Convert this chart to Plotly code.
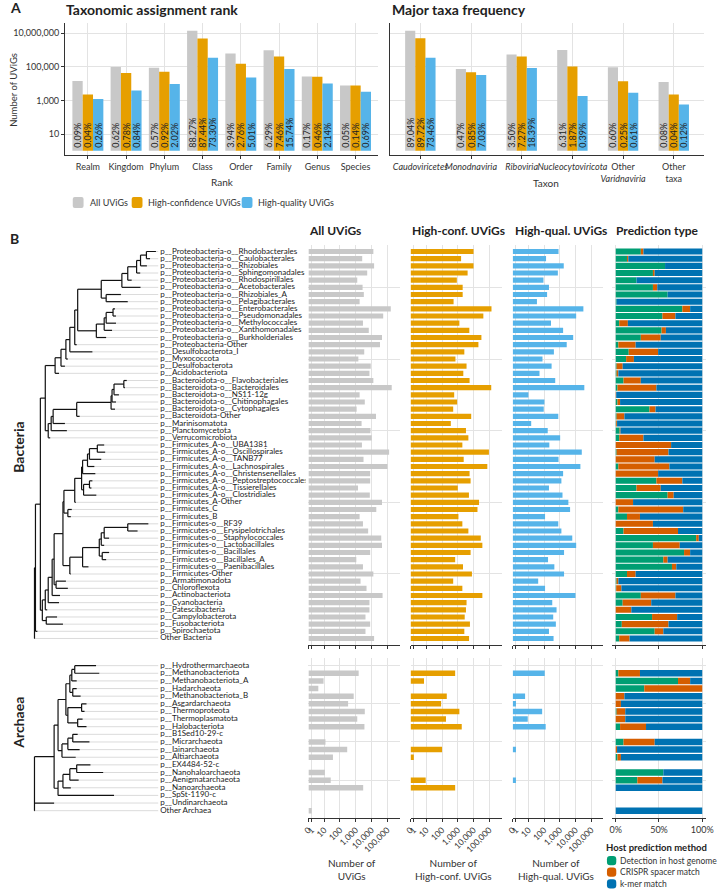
import numpy as np
import plotly.graph_objects as go

W, H = 720, 889
FONT = "Lato"
INK = "#222222"
AXC = "#333333"
GRID = "#E3E3E3"
GREY, ORANGE, SKY = "#C8C8C8", "#E69F00", "#56B4E9"
GREEN, VERMIL, BLUE = "#009E73", "#D55E00", "#0072B2"

# ---- Panel A data (percent of UViGs per deepest assigned rank / major taxon)
total_all, total_hc, total_hq = 15_677_623, 5_576_197, 470_000

rank_cats = ["Realm", "Kingdom", "Phylum", "Class", "Order", "Family", "Genus", "Species"]
rank_all_pct = [0.09, 0.62, 0.57, 88.27, 3.94, 6.29, 0.17, 0.05]
rank_hc_pct = [0.04, 0.78, 0.92, 87.44, 2.76, 7.46, 0.46, 0.14]
rank_hq_pct = [0.26, 0.84, 2.02, 73.30, 5.01, 15.74, 2.14, 0.69]

taxa_cats = ["Caudoviricetes", "Monodnaviria", "Riboviria", "Nucleocytoviricota",
             "Other Varidnaviria", "Other taxa"]
taxa_ticks = ["<i>Caudoviricetes</i>", "<i>Monodnaviria</i>", "<i>Riboviria</i>",
              "<i>Nucleocytoviricota</i>", "Other<br><i>Varidnaviria</i>", "Other<br>taxa"]
taxa_all_pct = [89.04, 0.47, 3.50, 6.31, 0.60, 0.08]
taxa_hc_pct = [89.72, 0.85, 7.27, 1.87, 0.25, 0.04]
taxa_hq_pct = [73.46, 7.03, 18.39, 0.39, 0.61, 0.12]

# ---- Panel B data: host taxa
bac_taxa = [
    "p__Proteobacteria-o__Rhodobacterales", "p__Proteobacteria-o__Caulobacterales",
    "p__Proteobacteria-o__Rhizobiales", "p__Proteobacteria-o__Sphingomonadales",
    "p__Proteobacteria-o__Rhodospirillales", "p__Proteobacteria-o__Acetobacterales",
    "p__Proteobacteria-o__Rhizobiales_A", "p__Proteobacteria-o__Pelagibacterales",
    "p__Proteobacteria-o__Enterobacterales", "p__Proteobacteria-o__Pseudomonadales",
    "p__Proteobacteria-o__Methylococcales", "p__Proteobacteria-o__Xanthomonadales",
    "p__Proteobacteria-o__Burkholderiales", "p__Proteobacteria-Other",
    "p__Desulfobacterota_I", "p__Myxococcota", "p__Desulfobacterota", "p__Acidobacteriota",
    "p__Bacteroidota-o__Flavobacteriales", "p__Bacteroidota-o__Bacteroidales",
    "p__Bacteroidota-o__NS11-12g", "p__Bacteroidota-o__Chitinophagales",
    "p__Bacteroidota-o__Cytophagales", "p__Bacteroidota-Other",
    "p__Marinisomatota", "p__Planctomycetota", "p__Verrucomicrobiota",
    "p__Firmicutes_A-o__UBA1381", "p__Firmicutes_A-o__Oscillospirales",
    "p__Firmicutes_A-o__TANB77", "p__Firmicutes_A-o__Lachnospirales",
    "p__Firmicutes_A-o__Christensenellales", "p__Firmicutes_A-o__Peptostreptococcales",
    "p__Firmicutes_A-o__Tissierellales", "p__Firmicutes_A-o__Clostridiales",
    "p__Firmicutes_A-Other", "p__Firmicutes_C", "p__Firmicutes_B",
    "p__Firmicutes-o__RF39", "p__Firmicutes-o__Erysipelotrichales",
    "p__Firmicutes-o__Staphylococcales", "p__Firmicutes-o__Lactobacillales",
    "p__Firmicutes-o__Bacillales", "p__Firmicutes-o__Bacillales_A",
    "p__Firmicutes-o__Paenibacillales", "p__Firmicutes-Other",
    "p__Armatimonadota", "p__Chloroflexota", "p__Actinobacteriota", "p__Cyanobacteria",
    "p__Patescibacteria", "p__Campylobacterota", "p__Fusobacteriota", "p__Spirochaetota",
    "Other Bacteria",
]
bac_all = [13300, 2600, 14800, 5400, 1260, 2750, 3300, 1780, 170000, 56000,
           2900, 6800, 47000, 35000, 3500, 1480, 9100, 7500, 13300, 195000,
           1780, 3800, 1150, 19500, 2370, 8700, 10500, 2500, 133000, 3160,
           105000, 8300, 8300, 1410, 7900, 47000, 20400, 1780, 2900, 6200,
           42000, 47000, 8300, 1100, 2900, 13300, 2040, 4900, 51000, 7500,
           7500, 4200, 8300, 4200, 14800]
bac_hc = [10000, 1620, 10000, 4200, 870, 2040, 2040, 540, 138000, 42000,
          1260, 5400, 31600, 20400, 2600, 710, 3600, 2240, 5600, 133000,
          590, 910, 510, 7100, 360, 3300, 4700, 1950, 95000, 2370,
          75000, 5600, 6500, 1000, 5100, 22400, 17800, 1100, 1950, 4700,
          28800, 36300, 6500, 680, 2140, 7900, 510, 1950, 36300, 3600,
          3300, 2750, 5900, 2600, 5200]
bac_hq = [830, 133, 1780, 750, 91, 204, 155, 35, 31600, 11000,
          275, 1620, 7100, 2750, 420, 79, 300, 51, 510, 36300,
          10, 105, 95, 800, 15, 170, 1050, 215, 25000, 830,
          20400, 1620, 1260, 204, 1480, 3500, 4500, 115, 800, 1260,
          6200, 11000, 1860, 178, 450, 1860, 42, 115, 10000, 330,
          620, 380, 560, 204, 400]
bac_genome = [0.29, 0.13, 0.57, 0.43, 0.24, 0.43, 0.60, 0.01, 0.77, 0.54,
              0.04, 0.53, 0.29, 0.03, 0.15, 0.12, 0.01, 0.01, 0.09, 0.02,
              0.00, 0.02, 0.39, 0.01, 0.005, 0.045, 0.04, 0.00, 0.01, 0.00,
              0.03, 0.00, 0.47, 0.24, 0.60, 0.00, 0.03, 0.13, 0.00, 0.09,
              0.93, 0.43, 0.79, 0.55, 0.65, 0.13, 0.01, 0.005, 0.29, 0.08,
              0.00, 0.42, 0.07, 0.45, 0.04]
bac_crispr = [0.03, 0.015, 0.00, 0.02, 0.00, 0.05, 0.00, 0.00, 0.09, 0.15,
              0.10, 0.05, 0.23, 0.20, 0.34, 0.09, 0.07, 0.02, 0.20, 0.45,
              0.005, 0.03, 0.07, 0.09, 0.01, 0.01, 0.28, 0.64, 0.60, 0.45,
              0.59, 0.49, 0.30, 0.28, 0.07, 0.20, 0.75, 0.15, 0.43, 0.63,
              0.03, 0.31, 0.07, 0.05, 0.05, 0.10, 0.02, 0.06, 0.40, 0.33,
              0.18, 0.29, 0.54, 0.10, 0.12]

arc_taxa = [
    "p__Hydrothermarchaeota", "p__Methanobacteriota", "p__Methanobacteriota_A",
    "p__Hadarchaeota", "p__Methanobacteriota_B", "p__Asgardarchaeota",
    "p__Thermoproteota", "p__Thermoplasmatota", "p__Halobacteriota",
    "p__B1Sed10-29-c", "p__Micrarchaeota", "p__Iainarchaeota", "p__Altiarchaeota",
    "p__EX4484-52-c", "p__Nanohaloarchaeota", "p__Aenigmatarchaeota",
    "p__Nanoarchaeota", "p__SpSt-1190-c", "p__Undinarchaeota", "Other Archaea",
]
arc_all = [0, 1550, 9, 4, 750, 330, 3800, 1260, 3600, 0, 12, 290, 36, 0, 11, 26, 3000, 0, 0, 1]
arc_hc = [0, 680, 7, 0, 200, 87, 1260, 178, 1780, 0, 0, 100, 1, 0, 0, 9, 680, 0, 0, 0]
arc_hq = [0, 110, 0, 0, 6, 1, 75, 9, 126, 0, 0, 1, 0, 0, 0, 1, 0, 0, 0, 0]
arc_genome = [None, 0.03, 0.72, 0.33, 0.00, 0.00, 0.01, 0.00, 0.05, None,
              0.09, 0.00, 0.02, None, 0.55, 0.25, 0.00, None, None, 0.00]
arc_crispr = [None, 0.25, 0.14, 0.67, 0.10, 0.06, 0.10, 0.11, 0.30, None,
              0.36, 0.015, 0.04, None, 0.00, 0.29, 0.00, None, None, 0.00]

# ---- Trees: tip depth per taxon and internal nodes (name, depth, children)
bac_tip_depth = [152.7, 146.7, 143.5, 136.7, 128, 137, 117, 124, 111, 112,
                 112, 108, 102, 72, 88, 63, 60, 54, 123, 121,
                 115, 112, 111, 75, 60, 62, 45, 100, 101, 97,
                 90, 91, 88, 87, 92, 71, 67, 66, 145, 134,
                 105, 100, 105, 102, 84, 66, 61, 63, 55, 54,
                 42, 52, 58, 32, 29.5]
bac_nodes = [
    ("a12", 143, [1, 2]), ("a123", 137, ["a12", 3]), ("a1234", 133, ["a123", 4]),
    ("a12345", 124, ["a1234", 5]), ("alA", 118, ["a12345", 6]), ("alB", 102, [7, 8]),
    ("alpha", 97, ["alA", "alB"]), ("g910", 109, [9, 10]), ("g", 102, ["g910", 11]),
    ("g2", 100, ["g", 12]), ("gamma", 92, ["g2", 13]), ("ag", 73, ["alpha", "gamma"]),
    ("P", 70, ["ag", 14]), ("D1", 65, ["P", 15]), ("D2", 61, ["D1", 16]),
    ("D3", 56, ["D2", 17]), ("D4", 50, ["D3", 18]),
    ("b12", 120, [19, 20]), ("b123", 110, ["b12", 21]), ("b1234", 108, ["b123", 22]),
    ("b12345", 107, ["b1234", 23]), ("B1", 72, ["b12345", 24]), ("M", 48, ["B1", 25]),
    ("M2", 46, ["M", 26]), ("M3", 43, ["M2", 27]), ("Top", 40, ["D4", "M3"]),
    ("fA12", 93, [28, 29]), ("fA123", 85, ["fA12", 30]), ("fA1234", 83, ["fA123", 31]),
    ("fA12345", 78, ["fA1234", 32]), ("fA67", 85, [33, 34]), ("fA678", 79, ["fA67", 35]),
    ("fAc", 77, ["fA12345", "fA678"]), ("fA", 70, ["fAc", 36]), ("FC", 63, [37, 38]),
    ("fAall", 59, ["fA", "FC"]),
    ("F4", 124, [39, 40]), ("F3", 100, ["F4", 41]), ("F2", 97, ["F3", 42]),
    ("F5", 98, [43, 44]), ("F6", 95, ["F2", "F5"]), ("F1", 78, ["F6", 45]),
    ("F", 65, ["F1", 46]), ("Firm", 58, ["fAall", "F"]),
    ("AC", 51, [47, 48]), ("G", 49, ["Firm", "AC"]), ("G2", 47, ["G", 49]),
    ("G3", 43, ["G2", 50]), ("G4", 40, ["G3", 51]), ("CF", 41, [52, 53]),
    ("G5", 37, ["G4", "CF"]), ("U", 35, ["Top", "G5"]), ("I", 30, ["U", 54]),
    ("root", 29, ["I", 55]),
]
arc_tip_depth = [91.7, 95, 72, 72, 76, 82, 80, 78, 82, 73,
                 85, 75, 71, 86, 99, 74, 66, 110, 49, 29.5]
arc_nodes = [
    ("A70", 70, [1, 2]), ("A67", 67, ["A70", 3]), ("A68", 68, [4, 5]),
    ("A65", 65, ["A67", "A68"]), ("A77", 77, [6, 7]), ("A73", 73, [8, 9]),
    ("A63", 63, ["A77", "A73"]), ("A61", 61, ["A65", "A63"]),
    ("A68b", 68, [10, 11]), ("A63b", 63, ["A68b", 12]), ("A57", 57, ["A63b", 13]),
    ("A53a", 53, ["A61", "A57"]), ("A72", 72, [14, 15]), ("A65b", 65, ["A72", 16]),
    ("A58", 58, ["A65b", 17]), ("A53b", 53, ["A58", 18]), ("A49", 49, ["A53a", "A53b"]),
    ("root", 29, ["A49", 19, 20]),
]

count_ticks = [0, 1, 10, 100, 1000, 10000, 100000]
count_ticktext = ["0", "1", "10", "100", "1,000", "10,000", "100,000"]


def fx(px):
    return px / W


def fy(py):
    return 1 - py / H


def plog(v):
    # pseudo-log scale (asinh based) like scales::pseudo_log_trans
    return np.arcsinh(np.asarray(v, dtype=float) / 2) / np.log(10)


def tree_lines(nodes, tip_depth, pos):
    x = {i + 1: d for i, d in enumerate(tip_depth)}
    y = {i + 1: p for i, p in enumerate(pos)}
    xs, ys = [], []
    for name, depth, kids in nodes:
        ky = [y[k] for k in kids]
        y[name], x[name] = sum(ky) / len(ky), depth
        xs += [depth, depth, None]
        ys += [min(ky), max(ky), None]
        for k in kids:
            xs += [depth, x[k], None]
            ys += [y[k], y[k], None]
    return xs, ys


def rrect(x0, y0, x1, y1, r):
    X, Y = fx, fy
    return (f"M{X(x0 + r)},{Y(y0)} L{X(x1 - r)},{Y(y0)} Q{X(x1)},{Y(y0)} {X(x1)},{Y(y0 + r)} "
            f"L{X(x1)},{Y(y1 - r)} Q{X(x1)},{Y(y1)} {X(x1 - r)},{Y(y1)} "
            f"L{X(x0 + r)},{Y(y1)} Q{X(x0)},{Y(y1)} {X(x0)},{Y(y1 - r)} "
            f"L{X(x0)},{Y(y0 + r)} Q{X(x0)},{Y(y0)} {X(x0 + r)},{Y(y0)} Z")


fig = go.Figure()
layout = {}

# ================= Panel A =================
series = [("All UViGs", total_all, GREY), ("High-confidence UViGs", total_hc, ORANGE),
          ("High-quality UViGs", total_hq, SKY)]
panelA = [
    (1, rank_cats, [rank_all_pct, rank_hc_pct, rank_hq_pct], 0.27, rank_cats, [60, 379.3]),
    (2, taxa_cats, [taxa_all_pct, taxa_hc_pct, taxa_hq_pct], 0.2, taxa_ticks, [391, 711]),
]
for idx, cats, pcts, w, ticks, dom in panelA:
    xa = "x" if idx == 1 else f"x{idx}"
    ya = "y" if idx == 1 else f"y{idx}"
    for k, ((name, total, color), pct) in enumerate(zip(series, pcts)):
        vals = [p / 100 * total for p in pct]
        fig.add_trace(go.Bar(
            x=cats, y=vals, base=1, width=w, offset=-1.5 * w + k * w,
            marker=dict(color=color, line=dict(width=0)),
            text=[f"{p:.2f}%" for p in pct], textposition="inside",
            insidetextanchor="start", textangle=-90, constraintext="none",
            textfont=dict(size=9, color=INK, family=FONT),
            xaxis=xa, yaxis=ya, name=name))
    layout["xaxis" if idx == 1 else f"xaxis{idx}"] = dict(
        domain=[fx(dom[0]), fx(dom[1])], anchor=ya, type="category",
        range=[-0.6, len(cats) - 0.4], showline=True, linecolor=AXC, linewidth=1,
        ticks="outside", ticklen=3, tickcolor=AXC, tickvals=cats, ticktext=ticks,
        tickangle=0, tickfont=dict(size=9, color=AXC), showgrid=True, gridcolor=GRID,
        zeroline=False, fixedrange=True)
    layout["yaxis" if idx == 1 else f"yaxis{idx}"] = dict(
        domain=[fy(155), fy(23)], anchor=xa, type="log", range=[-0.25, 7.61],
        tickvals=[10, 1e3, 1e5, 1e7], ticktext=["10", "1,000", "100,000", "10,000,000"],
        showticklabels=(idx == 1), ticks="outside" if idx == 1 else "", ticklen=3,
        tickcolor=AXC, tickfont=dict(size=9, color=AXC), showline=True,
        linecolor=AXC, linewidth=1, showgrid=True, gridcolor=GRID, zeroline=False,
        fixedrange=True)

# ================= Panel B =================
pos_b = [len(bac_taxa) + 1 - r for r in range(1, len(bac_taxa) + 1)]
pos_a = [len(arc_taxa) + 1 - r for r in range(1, len(arc_taxa) + 1)]

groups = [
    ("b", bac_taxa, pos_b, bac_tip_depth, bac_nodes, (245, 645), [0.09, 55.91],
     [10, 20, 30, 40, 50], bac_all, bac_hc, bac_hq, bac_genome, bac_crispr),
    ("a", arc_taxa, pos_a, arc_tip_depth, arc_nodes, (658, 817.7), [0.08, 21.0],
     [5, 10, 15, 20], arc_all, arc_hc, arc_hq, arc_genome, arc_crispr),
]
cols = [(308, 401, [0, 5.8]), (412, 505, [0, 5.8]), (516, 608, [0, 5.75]),
        (617, 713, [-0.045, 1.045])]

n = 3
for gi, (tag, taxa, pos, tips, nodes, ydom, yr, gv, c_all, c_hc, c_hq, gen, cri) in enumerate(groups):
    last = gi == 1
    # --- tree with grey leader lines to the labels
    xs, ys = tree_lines(nodes, tips, pos)
    lx, ly = [], []
    for t, p in zip(tips, pos):
        lx += [t, 155, None]
        ly += [p, p, None]
    fig.add_trace(go.Scatter(x=lx, y=ly, mode="lines", line=dict(color="#D2D2D2", width=0.8),
                             xaxis=f"x{n}", yaxis=f"y{n}", hoverinfo="skip"))
    fig.add_trace(go.Scatter(x=xs, y=ys, mode="lines", line=dict(color="#111111", width=1.2),
                             xaxis=f"x{n}", yaxis=f"y{n}", hoverinfo="skip"))
    fig.add_trace(go.Scatter(x=[157] * len(taxa), y=pos, text=taxa, mode="text",
                             textposition="middle right",
                             textfont=dict(size=8, color=INK, family=FONT),
                             xaxis=f"x{n}", yaxis=f"y{n}", hoverinfo="skip"))
    layout[f"xaxis{n}"] = dict(domain=[0, fx(305)], range=[0, 305], anchor=f"y{n}",
                               visible=False, fixedrange=True)
    layout[f"yaxis{n}"] = dict(domain=[fy(ydom[1]), fy(ydom[0])], range=yr, anchor=f"x{n}",
                               visible=False, fixedrange=True)
    n += 1

    # --- count columns (pseudo-log axis)
    for ci, (counts, color) in enumerate([(c_all, GREY), (c_hc, ORANGE), (c_hq, SKY)]):
        fig.add_trace(go.Bar(x=plog(counts), y=pos, orientation="h", width=0.72,
                             marker=dict(color=color, line=dict(width=0)),
                             xaxis=f"x{n}", yaxis=f"y{n}"))
        x0, x1, xr = cols[ci]
        layout[f"xaxis{n}"] = dict(
            domain=[fx(x0), fx(x1)], range=xr, anchor=f"y{n}",
            tickvals=list(plog(count_ticks)), ticktext=count_ticktext,
            showticklabels=last, tickangle=-45, tickfont=dict(size=8.5, color=AXC),
            ticks="outside", ticklen=3, tickcolor=AXC, showline=True, linecolor=AXC,
            linewidth=1, showgrid=True, gridcolor=GRID, zeroline=False, fixedrange=True,
            ticklabeloverflow="allow")
        layout[f"yaxis{n}"] = dict(
            domain=[fy(ydom[1]), fy(ydom[0])], range=yr, anchor=f"x{n}", tickvals=gv,
            showticklabels=False, showgrid=True, gridcolor=GRID, zeroline=False,
            showline=False, fixedrange=True)
        n += 1

    # --- prediction type (stacked shares)
    g = [v if v is not None else 0 for v in gen]
    c = [v if v is not None else 0 for v in cri]
    km = [1 - a - b if v is not None else 0 for a, b, v in zip(g, c, gen)]
    for vals, bases, color in [(g, [0] * len(g), GREEN),
                               (c, g, VERMIL),
                               (km, [a + b for a, b in zip(g, c)], BLUE)]:
        fig.add_trace(go.Bar(x=vals, y=pos, base=bases, orientation="h", width=0.85,
                             marker=dict(color=color, line=dict(width=0)),
                             xaxis=f"x{n}", yaxis=f"y{n}"))
    x0, x1, xr = cols[3]
    layout[f"xaxis{n}"] = dict(
        domain=[fx(x0), fx(x1)], range=xr, anchor=f"y{n}", tickvals=[0, 0.5, 1],
        ticktext=["0%", "50%", "100%"], showticklabels=last, tickangle=0,
        tickfont=dict(size=9, color=AXC), ticks="outside", ticklen=3, tickcolor=AXC,
        showline=True, linecolor=AXC, linewidth=1, showgrid=True, gridcolor=GRID,
        zeroline=False, fixedrange=True, ticklabeloverflow="allow")
    layout[f"yaxis{n}"] = dict(
        domain=[fy(ydom[1]), fy(ydom[0])], range=yr, anchor=f"x{n}", tickvals=gv,
        showticklabels=False, showgrid=True, gridcolor=GRID, zeroline=False,
        showline=False, fixedrange=True)
    n += 1

# ================= Text & legends =================
ann = []


def text(x, y, s, size=10, bold=False, xanchor="left", angle=0, color=INK):
    ann.append(dict(x=fx(x), y=fy(y), xref="paper", yref="paper", showarrow=False,
                    text=f"<b>{s}</b>" if bold else s, xanchor=xanchor, yanchor="middle",
                    textangle=angle, font=dict(size=size, color=color, family=FONT)))


text(2.5, 7.5, "A", 14, True)
text(2.5, 239, "B", 14, True)
text(59, 9, "Taxonomic assignment rank", 14, True)
text(391, 9, "Major taxa frequency", 14, True)
text(8, 90, "Number of UViGs", 9.5, xanchor="center", angle=-90, color=AXC)
text(220, 182, "Rank", 10, xanchor="center", color=AXC)
text(550, 183, "Taxon", 10, xanchor="center", color=AXC)
text(307, 230, "All UViGs", 12, True)
text(411, 230, "High-conf. UViGs", 12, True)
text(516, 230, "High-qual. UViGs", 12, True)
text(619, 230, "Prediction type", 12, True)
text(12, 447, "Bacteria", 14, True, xanchor="center", angle=-90)
text(12, 723, "Archaea", 14, True, xanchor="center", angle=-90)
text(352, 869, "Number of<br>UViGs", 10, xanchor="center", color=AXC)
text(456, 869, "Number of<br>High-conf. UViGs", 10, xanchor="center", color=AXC)
text(560, 869, "Number of<br>High-qual. UViGs", 10, xanchor="center", color=AXC)

shapes = []
legA = [(68, "All UViGs", GREY), (128, "High-confidence UViGs", ORANGE),
        (240, "High-quality UViGs", SKY)]
for x, lab, col in legA:
    shapes.append(dict(type="path", xref="paper", yref="paper",
                       path=rrect(x, 197, x + 11, 208, 2), fillcolor=col, line=dict(width=0)))
    text(x + 15, 202.5, lab, 9, color=AXC)

text(609, 847, "Host prediction method", 9.5, True)
legB = [(860.7, "Detection in host genome", GREEN), (872.2, "CRISPR spacer match", VERMIL),
        (883.8, "k-mer match", BLUE)]
for y, lab, col in legB:
    shapes.append(dict(type="path", xref="paper", yref="paper",
                       path=rrect(612, y - 4.6, 621.5, y + 4.6, 3.2), fillcolor=col,
                       line=dict(width=0)))
    text(623.5, y, lab, 8.5, color=AXC)

fig.update_layout(
    width=W, height=H, margin=dict(l=0, r=0, t=0, b=0),
    paper_bgcolor="white", plot_bgcolor="white", showlegend=False,
    barmode="overlay", font=dict(family=FONT, color=INK),
    annotations=ann, shapes=shapes, **layout)

fig.write_html("out.html", config={"displayModeBar": False, "staticPlot": True},
               post_script="document.body.style.margin='0';document.body.style.overflow='hidden';")
